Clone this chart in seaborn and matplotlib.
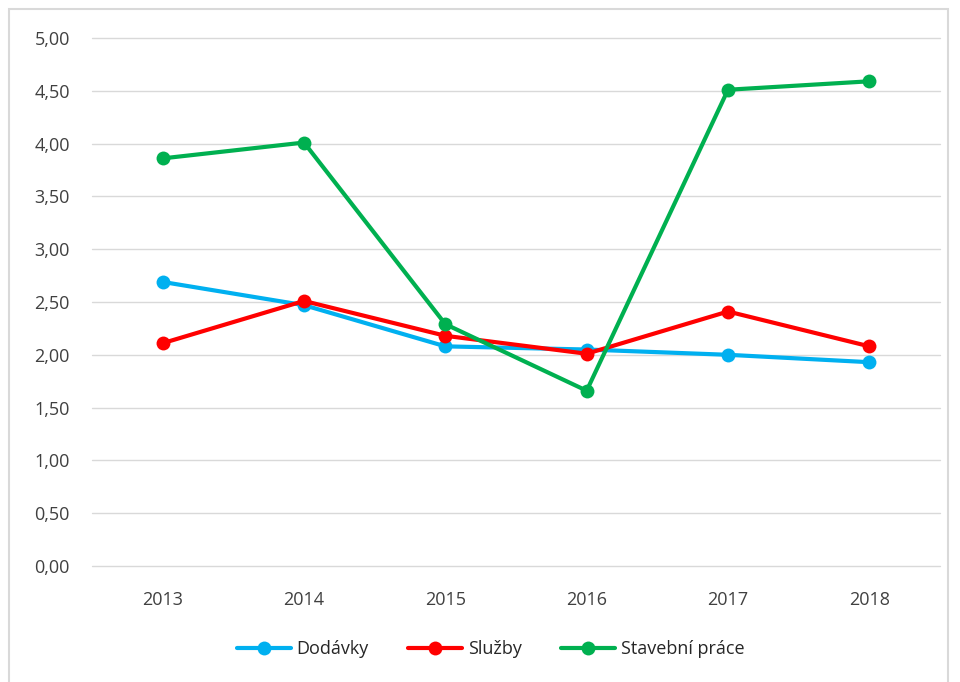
import matplotlib
matplotlib.use('Agg')
import matplotlib.pyplot as plt
import matplotlib.patches as patches
from matplotlib.ticker import FuncFormatter
import pandas as pd
import seaborn as sns

years = ["2013", "2014", "2015", "2016", "2017", "2018"]
dodavky = [2.69, 2.47, 2.08, 2.05, 2.00, 1.93]
sluzby = [2.11, 2.51, 2.18, 2.01, 2.41, 2.08]
stavebni = [3.86, 4.01, 2.29, 1.66, 4.51, 4.59]
series_names = ["Dodávky", "Služby", "Stavební práce"]
colors = ["#00B0F0", "#FF0000", "#00B050"]
y_ticks = [0.0, 0.5, 1.0, 1.5, 2.0, 2.5, 3.0, 3.5, 4.0, 4.5, 5.0]

sns.set_style("white")
plt.rcParams['font.family'] = ['Open Sans', 'DejaVu Sans']

df = pd.DataFrame({
    "rok": years * 3,
    "hodnota": dodavky + sluzby + stavebni,
    "serie": [n for n in series_names for _ in years],
})

fig = plt.figure(figsize=(9.6, 6.82), dpi=100)
ax = fig.add_axes([92 / 960, 1 - 566 / 682, 848 / 960, 528 / 682])

sns.lineplot(data=df, x="rok", y="hodnota", hue="serie", palette=colors,
             marker="o", markersize=10, markeredgewidth=0, linewidth=3,
             sort=False, ax=ax)

ax.set_xlim(-0.5, 5.5)
ax.set_ylim(0, 5)
ax.set_yticks(y_ticks)
ax.yaxis.set_major_formatter(FuncFormatter(lambda v, p: f"{v:.2f}".replace(".", ",")))
ax.grid(axis="y", color="#d9d9d9", linewidth=1)
for gl in ax.get_ygridlines():
    gl.set_clip_on(False)
ax.set_axisbelow(True)
for s in ax.spines.values():
    s.set_visible(False)
ax.tick_params(axis="both", length=0, labelsize=13, colors="#404040")
ax.tick_params(axis="y", pad=16)
ax.tick_params(axis="x", pad=18)
ax.set_xlabel("")
ax.set_ylabel("")

ax.legend(loc="center", bbox_to_anchor=(0.47, -0.158), ncol=3, frameon=False,
          fontsize=13, handlelength=3, columnspacing=2.2, handletextpad=0.3,
          labelcolor="#262626")

# outer chart frame
fig.patches.append(patches.Rectangle((9 / 960, -0.05), 939 / 960, 1.05 - 9 / 682,
                                     transform=fig.transFigure, fill=False,
                                     edgecolor="#d9d9d9", linewidth=1.5))

fig.savefig("out.png", dpi=100)
plt.close()
